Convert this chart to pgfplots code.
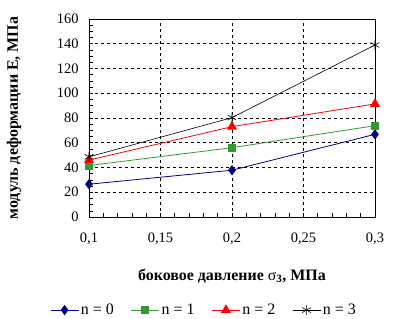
\documentclass[border=0pt]{standalone}
\usepackage{fontspec}
\setmainfont{Liberation Serif}
\usepackage{pgfplots}
\pgfplotsset{compat=1.18}
\definecolor{cnavy}{RGB}{0,0,128}
\definecolor{cgreen}{RGB}{51,153,51}
\definecolor{cred}{RGB}{255,0,0}
\begin{document}
\begin{tikzpicture}
\useasboundingbox (-89bp,-102bp) rectangle (315bp,217bp);
\begin{axis}[
  at={(0,0)}, anchor=south west,
  scale only axis, width=286bp, height=198bp,
  xmin=0.1, xmax=0.3, ymin=0, ymax=160,
  xtick={0.1,0.15,0.2,0.25,0.3},
  xticklabels={{0,1},{0,15},{0,2},{0,25},{0,3}},
  ytick={0,20,...,160},
  minor x tick num=4, minor y tick num=3,
  tick align=inside, xtick pos=left, ytick pos=left,
  major tick length=4bp, minor tick length=4bp,
  tick style={black, line width=0.6bp},
  grid=major,
  major grid style={black, dashed, line width=0.6bp},
  axis line style={black, line width=0.8bp},
  /pgf/number format/assume math mode=true,
  tick label style={font=\fontsize{14.5}{17}\selectfont},
  label style={font=\fontsize{16}{19}\selectfont},
  xticklabel style={yshift=-12bp},
  yticklabel style={xshift=-7bp},
  xlabel={\bfseries боковое давление {\mdseries σ}\textsubscript{3}, МПа},
  ylabel={\bfseries модуль деформации Е, МПа},
  xlabel style={at={(axis description cs:0.5,-0.298)}, anchor=center},
  ylabel style={at={(axis description cs:-0.262,0.5)}, anchor=center, rotate=0},
  legend columns=4,
  legend style={draw=none, fill=none, at={(axis description cs:0.402,-0.47)}, anchor=center,
    font=\fontsize{16}{19}\selectfont,
    /tikz/every even column/.append style={column sep=15bp},
    cells={anchor=west}},
  legend image code/.code={\draw[mark repeat=2,mark phase=2] plot coordinates {(0bp,0bp) (14bp,0bp) (28bp,0bp)};},
]
\addplot[cnavy, line width=0.8bp, mark=diamond*, mark size=4.5bp, mark options={fill=cnavy, solid}] coordinates {(0.1,26.5) (0.2,37.8) (0.3,66.8)};
\addlegendentry{n = 0}
\addplot[cgreen, line width=0.8bp, mark=square*, mark size=3.5bp, mark options={fill=cgreen, solid}] coordinates {(0.1,41.6) (0.2,56) (0.3,73.8)};
\addlegendentry{n = 1}
\addplot[cred, line width=0.8bp, mark=triangle*, mark size=5bp, mark options={fill=cred, solid}] coordinates {(0.1,46) (0.2,73) (0.3,91.4)};
\addlegendentry{n = 2}
\addplot[black, line width=0.6bp, mark=asterisk, mark size=5bp, mark options={solid}] coordinates {(0.1,48.6) (0.2,80.3) (0.3,139)};
\addlegendentry{n = 3}
\end{axis}
\end{tikzpicture}
\end{document}
